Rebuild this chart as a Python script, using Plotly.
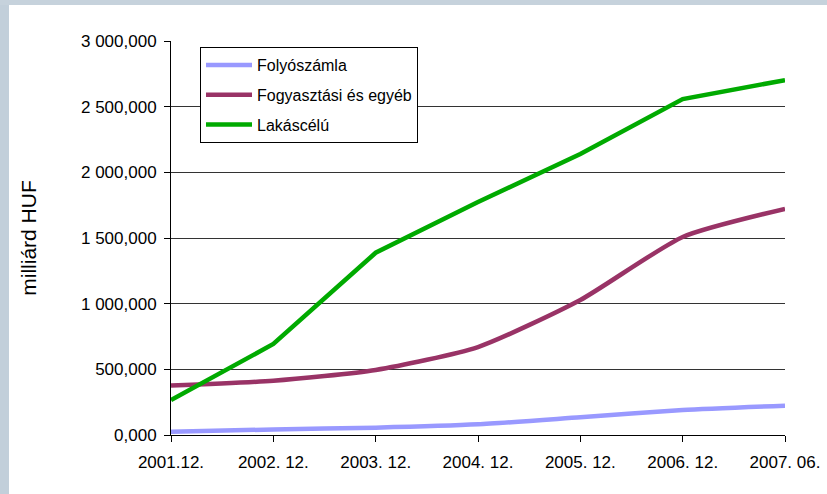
import plotly.graph_objects as go

categories = ["2001.12.", "2002. 12.", "2003. 12.", "2004. 12.", "2005. 12.", "2006. 12.", "2007. 06."]
folyoszamla = [25000, 42000, 56000, 81000, 135000, 190000, 223000]
fogyasztasi = [376000, 413000, 495000, 670000, 1028000, 1508000, 1722000]
lakascelu = [266000, 693000, 1388000, 1774000, 2140000, 2558000, 2702000]
ytick_vals = [0, 500000, 1000000, 1500000, 2000000, 2500000, 3000000]
ytick_text = ["0,000", "500,000", "1 000,000", "1 500,000", "2 000,000", "2 500,000", "3 000,000"]

FONT = "Liberation Sans, Arial, sans-serif"
W, H = 827, 494
L, R, T, B = 171, 42, 41, 59
pw, ph = W - L - R, H - T - B

fig = go.Figure()
fig.add_trace(go.Scatter(x=categories, y=folyoszamla, name="Folyószámla", mode="lines",
                         line=dict(color="#9999FF", width=4.5, shape="spline", smoothing=0.6),
                         legendgroup="a"))
fig.add_trace(go.Scatter(x=categories, y=fogyasztasi, name="Fogyasztási és egyéb", mode="lines",
                         line=dict(color="#993366", width=4.5, shape="spline", smoothing=0.6),
                         legendgroup="b"))
fig.add_trace(go.Scatter(x=categories, y=lakascelu, name="Lakáscélú", mode="lines",
                         line=dict(color="#00AA00", width=4.5), legendgroup="c"))

# slide-like frame strips on left and top
fig.add_shape(type="rect", xref="paper", yref="paper", layer="below",
              x0=-L / pw, x1=(9 - L) / pw, y0=-B / ph, y1=1 + T / ph,
              fillcolor="#c2cfda", line_width=0)
fig.add_shape(type="rect", xref="paper", yref="paper", layer="below",
              x0=-L / pw, x1=(W - L) / pw, y0=1 + (T - 5) / ph, y1=1 + T / ph,
              fillcolor="#c6d2dc", line_width=0)

fig.update_layout(
    width=W, height=H,
    margin=dict(l=L, r=R, t=T, b=B, pad=0, autoexpand=False),
    paper_bgcolor="white", plot_bgcolor="white",
    font=dict(family=FONT, color="black", size=17),
    showlegend=True,
    legend=dict(x=(200 - L) / pw, y=1 - (47 - T) / ph, xanchor="left", yanchor="top",
                bgcolor="white", bordercolor="black", borderwidth=1,
                font=dict(family=FONT, size=16, color="black"),
                tracegroupgap=6, traceorder="grouped", itemwidth=46),
    xaxis=dict(type="category", range=[0, 6], showgrid=False, automargin=False,
               showline=True, linecolor="black", linewidth=1,
               ticks="outside", ticklen=6, tickcolor="black", ticklabelstandoff=6,
               tickfont=dict(family=FONT, size=17), fixedrange=True),
    yaxis=dict(range=[0, 3000000], tickvals=ytick_vals, ticktext=ytick_text, automargin=False,
               showgrid=True, gridcolor="#333333", gridwidth=1,
               showline=True, linecolor="black", linewidth=1,
               ticks="outside", ticklen=6, tickcolor="black", ticklabelstandoff=4,
               tickfont=dict(family=FONT, size=17), zeroline=False,
               title=dict(text="milliárd HUF", font=dict(family=FONT, size=21), standoff=38)),
)

fig.write_html("out.html")
